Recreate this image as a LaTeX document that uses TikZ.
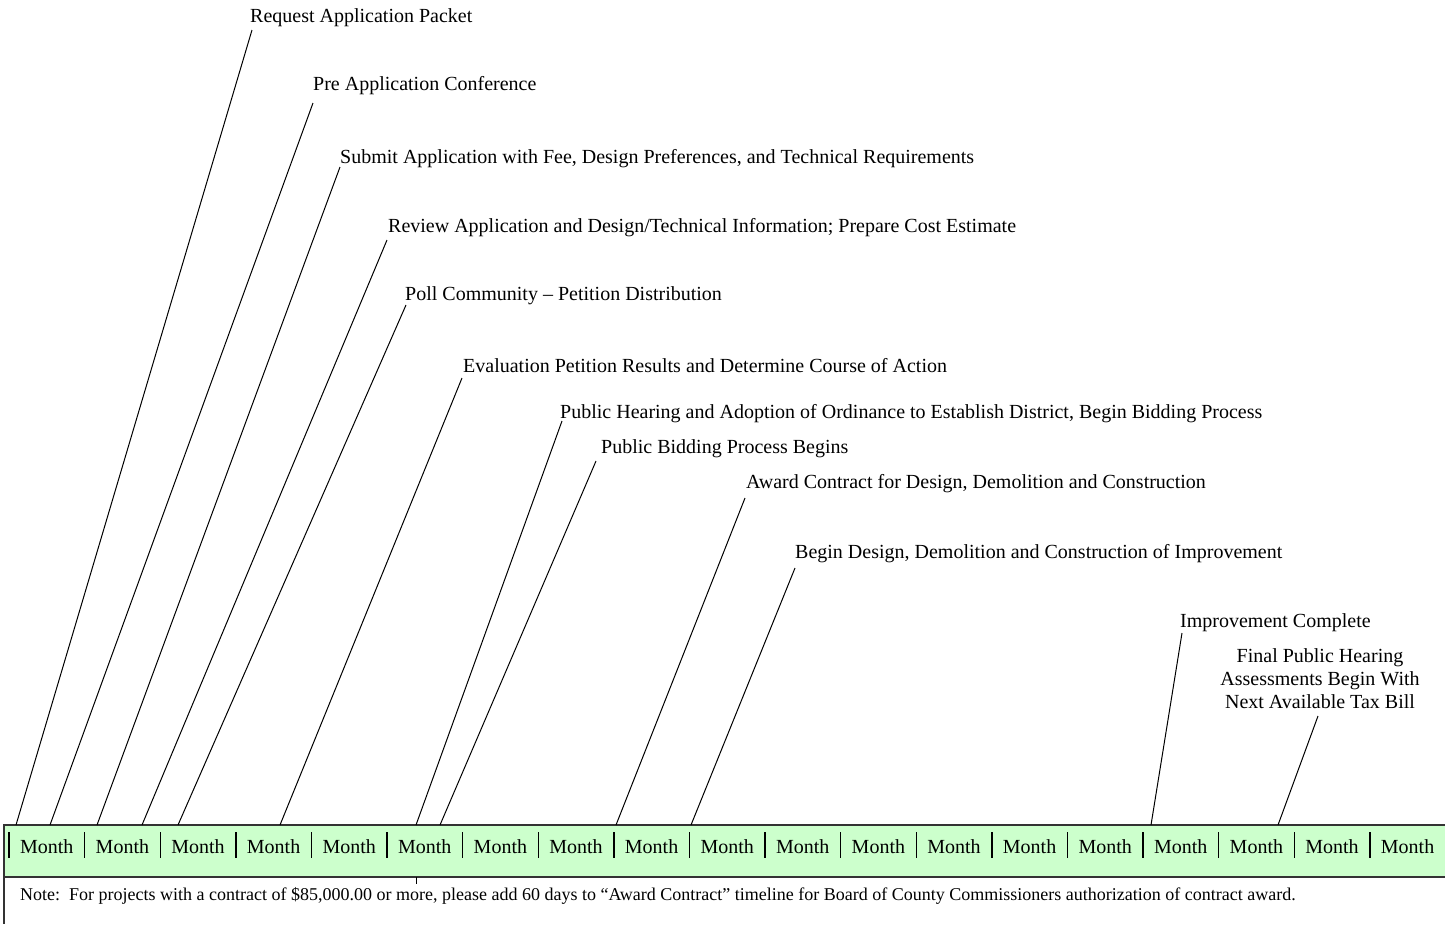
\documentclass[tikz,border=0pt]{standalone}
\usepackage{fontspec}
\setmainfont{Liberation Serif}
\definecolor{bargreen}{HTML}{CCFFCC}
\tikzset{
  lbl/.style={anchor=base west, inner sep=0pt, font=\fontsize{20}{23}\selectfont},
  mon/.style={anchor=base, inner sep=0pt, font=\fontsize{20}{23}\selectfont},
  lead/.style={draw=black, line width=1pt},
  sep/.style={draw=black, line width=1.4pt},
  border/.style={draw=black!80, line width=1.5pt},
}
\begin{document}
\begin{tikzpicture}[x=1pt,y=-1pt]
\useasboundingbox (0,0) rectangle (1445,924);
% bar
\fill[bargreen] (4,825) rectangle (1446,877);
\draw[border] (1446,825) -- (4,825) -- (4,924);
\draw[border] (4,877) -- (1446,877);
% separators and months
\foreach \k in {0,...,19}{
  \draw[sep] ({9+75.6*\k},832) -- ({9+75.6*\k},858);
}
\foreach \k in {1,...,19}{
  \node[mon] (m\k) at ({9+75.6*\k-37.8},853) {Month};
}
% note
\node[anchor=base west, inner sep=0pt, font=\fontsize{18}{21}\selectfont] (note) at (20,900)
  {Note:\ \ For projects with a contract of \$85,000.00 or more, please add 60 days to “Award Contract” timeline for Board of County Commissioners authorization of contract award.};
\coordinate (tick) at (416,884);
\coordinate (tickb) at (416,877);
\draw[lead] (tickb) -- (tick);
% labels
\node[lbl] (l1) at (250,22) {Request Application Packet};
\node[lbl] (l2) at (313,90) {Pre Application Conference};
\node[lbl] (l3) at (340,163) {Submit Application with Fee, Design Preferences, and Technical Requirements};
\node[lbl] (l4) at (388,232) {Review Application and Design/Technical Information; Prepare Cost Estimate};
\node[lbl] (l5) at (405,300) {Poll Community -- Petition Distribution};
\node[lbl] (l6) at (463,372) {Evaluation Petition Results and Determine Course of Action};
\node[lbl] (l7) at (560,418) {Public Hearing and Adoption of Ordinance to Establish District, Begin Bidding Process};
\node[lbl] (l8) at (601,453) {Public Bidding Process Begins};
\node[lbl] (l9) at (746,488) {Award Contract for Design, Demolition and Construction};
\node[lbl] (l10) at (795,558) {Begin Design, Demolition and Construction of Improvement};
\node[lbl] (l11) at (1180,627) {Improvement Complete};
\node[anchor=north, inner sep=0pt, align=center, font=\fontsize{20}{23}\selectfont] (l12) at (1320,648)
  {Final Public Hearing\\Assessments Begin With\\Next Available Tax Bill};
% leader endpoints
\coordinate (t1) at (252,30);   \coordinate (b1) at (16,825);
\coordinate (t2) at (313,103);  \coordinate (b2) at (50,825);
\coordinate (t3) at (340,167);  \coordinate (b3) at (97,825);
\coordinate (t4) at (387,240);  \coordinate (b4) at (142,825);
\coordinate (t5) at (406,305);  \coordinate (b5) at (178,825);
\coordinate (t6) at (462,378);  \coordinate (b6) at (280,825);
\coordinate (t7) at (562,421);  \coordinate (b7) at (416,825);
\coordinate (t8) at (596,461);  \coordinate (b8) at (440,825);
\coordinate (t9) at (745,498);  \coordinate (b9) at (616,825);
\coordinate (t10) at (795,568); \coordinate (b10) at (691,825);
\coordinate (t11) at (1182,633); \coordinate (b11) at (1151,825);
\coordinate (t12) at (1318,716); \coordinate (b12) at (1278,825);
\foreach \i in {1,...,12}{ \draw[lead] (t\i) -- (b\i); }
\end{tikzpicture}
\end{document}
